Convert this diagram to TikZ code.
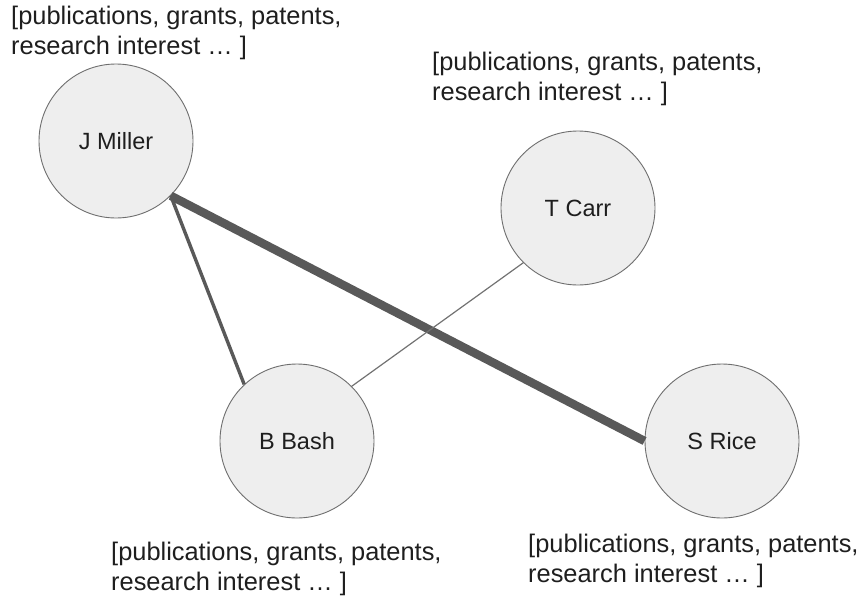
\documentclass[tikz,border=0pt]{standalone}
\usepackage{fontspec}
\setmainfont{Liberation Sans}
\definecolor{nodefill}{HTML}{EEEEEE}
\definecolor{nodeline}{HTML}{6E6E6E}
\definecolor{linkcol}{HTML}{595959}
\definecolor{infocol}{HTML}{1E1E1E}

\begin{document}
\begin{tikzpicture}[x=1pt, y=-1pt,
    person/.style={circle, draw=nodeline, fill=nodefill, line width=0.9pt,
      minimum size=154pt, inner sep=0pt, text=infocol,
      font=\fontsize{23.5}{28}\selectfont},
    info/.style={anchor=base west, inner sep=0pt, align=left, text=infocol,
      font=\fontsize{25.4}{29.5}\selectfont},
    stronglink/.style={draw=linkcol, line width=8.5pt},
    midlink/.style={draw=linkcol, line width=3.4pt},
    weaklink/.style={draw=linkcol!85, line width=1.2pt}]
  \useasboundingbox (0,0) rectangle (860,595);

  % Draw the people
  \node[person] (miller) at (116,141) {J Miller};
  \node[person] (carr) at (578,208) {T Carr};
  \node[person] (bash) at (297,441) {B Bash};
  \node[person] (rice) at (722,441) {S Rice};

  % Draw the links between them
  \draw[stronglink] (miller.-45) -- (rice.west);
  \draw[midlink] (miller.-45) -- (bash.133);
  \draw[weaklink] (carr.225) -- (bash.45);

  % Draw the attributes of each person (base = last line)
  \node[info] (millerinfo) at (11,54) {[publications, grants, patents,\\research interest … ]};
  \node[info] (carrinfo) at (432,100) {[publications, grants, patents,\\research interest … ]};
  \node[info] (bashinfo) at (111,590) {[publications, grants, patents,\\research interest … ]};
  \node[info] (riceinfo) at (528,582) {[publications, grants, patents,\\research interest … ]};
\end{tikzpicture}
\end{document}
